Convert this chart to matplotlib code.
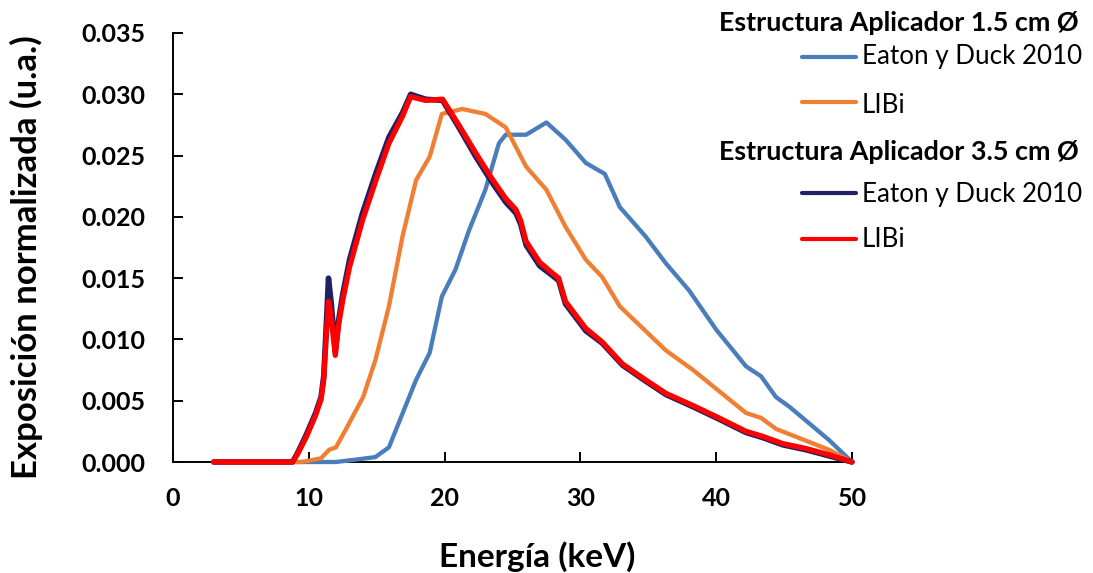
import matplotlib
matplotlib.use('Agg')
import matplotlib.pyplot as plt
from matplotlib.lines import Line2D

plt.rcParams['font.family'] = ['Lato', 'DejaVu Sans']

# Espectros de exposicion normalizada (keV, u.a.)
# Aplicador 1.5 cm - Eaton y Duck 2010
e_eaton_15 = [3, 9, 12, 13.5, 14.9, 15.9, 17.1, 17.9, 18.9, 19.8, 20.8, 21.8, 23.0, 24.0, 24.5,
              26.0, 27.5, 28.9, 30.4, 31.8, 32.9, 34.8, 36.3, 38.0, 40.0, 42.2, 43.3, 44.4,
              45.4, 48.3, 50]
v_eaton_15 = [0, 0, 0, 0.0002, 0.0004, 0.0012, 0.0045, 0.0067, 0.0089, 0.0135, 0.0157, 0.0189,
              0.0222, 0.0260, 0.0267, 0.0267, 0.0277, 0.0263, 0.0244, 0.0235, 0.0208, 0.0184,
              0.0162, 0.0140, 0.0108, 0.0078, 0.0070, 0.0053, 0.0045, 0.0018, 0.0]

# Aplicador 1.5 cm - LIBi
e_libi_15 = [3, 9.5, 10.9, 11.5, 12.0, 12.7, 14.0, 14.9, 15.9, 16.9, 17.9, 18.9, 19.8, 21.3,
             23.0, 24.5, 26.0, 27.5, 28.9, 30.4, 31.6, 32.9, 36.3, 38.3, 42.2, 43.3, 44.4,
             48.3, 50]
v_libi_15 = [0, 0, 0.0003, 0.0010, 0.0012, 0.0026, 0.0053, 0.0083, 0.0127, 0.0184, 0.0230,
             0.0249, 0.0284, 0.0288, 0.0284, 0.0273, 0.0241, 0.0222, 0.0192, 0.0165, 0.0151,
             0.0127, 0.0091, 0.0075, 0.0040, 0.0036, 0.0027, 0.0010, 0.0]

# Aplicador 3.5 cm (mismas energias para ambas series)
e_35 = [3, 8.8, 9.2, 9.8, 10.5, 10.9, 11.1, 11.3, 11.45, 11.65, 11.95, 12.2, 12.5, 13.0, 13.95,
        14.95, 15.9, 16.9, 17.5, 18.6, 19.85, 21.1, 22.3, 23.5, 24.5, 25.25, 25.6, 26.0, 27.0,
        27.95, 28.4, 28.9, 30.4, 31.6, 33.1, 34.8, 36.3, 38.3, 40.2, 42.2, 43.4, 44.9, 46.6,
        48.3, 50]
v_eaton_35 = [0, 0, 0.0008, 0.0022, 0.0040, 0.0053, 0.0070, 0.0115, 0.0150, 0.0130, 0.0090,
              0.0116, 0.0137, 0.0165, 0.0203, 0.0236, 0.0265, 0.0285, 0.0300, 0.0296, 0.0295,
              0.0272, 0.0249, 0.0228, 0.0212, 0.0203, 0.0194, 0.0177, 0.0160, 0.0152, 0.0148,
              0.0129, 0.0107, 0.0097, 0.0079, 0.0066, 0.0055, 0.0045, 0.0035, 0.0024, 0.0020,
              0.0014, 0.0010, 0.0005, 0.0]
v_libi_35 = [0, 0, 0.0007, 0.0020, 0.0038, 0.0051, 0.0067, 0.0105, 0.0131, 0.0118, 0.0087,
             0.0112, 0.0132, 0.0159, 0.0197, 0.0230, 0.0260, 0.0282, 0.0298, 0.0295, 0.0296,
             0.0274, 0.0252, 0.0231, 0.0215, 0.0206, 0.0197, 0.0180, 0.0163, 0.0154, 0.0150,
             0.0131, 0.0109, 0.0098, 0.0080, 0.0067, 0.0056, 0.0046, 0.0036, 0.0025, 0.0021,
             0.0015, 0.0011, 0.0006, 0.0]

x_ticks = [0, 10, 20, 30, 40, 50]
y_ticks = [0.000, 0.005, 0.010, 0.015, 0.020, 0.025, 0.030, 0.035]

c_blue = '#4A7EBB'
c_orange = '#EF7F33'
c_navy = '#202064'
c_red = '#FF0000'

W, H = 1093, 573
fig = plt.figure(figsize=(W / 100, H / 100), dpi=100)
ax = fig.add_axes([173 / W, 1 - 462 / H, (852 - 173) / W, (462 - 33) / H])

kw = dict(solid_capstyle='round', solid_joinstyle='round', clip_on=False)
ax.plot(e_eaton_15, v_eaton_15, color=c_blue, lw=3.1, zorder=3, **kw)
ax.plot(e_libi_15, v_libi_15, color=c_orange, lw=3.1, zorder=4, **kw)
ax.plot(e_35, v_eaton_35, color=c_navy, lw=4.0, zorder=5, **kw)
ax.plot(e_35, v_libi_35, color=c_red, lw=3.8, zorder=6, **kw)

ax.set_xlim(0, 50)
ax.set_ylim(0, 0.035)
ax.set_xticks(x_ticks)
ax.set_yticks(y_ticks)
ax.set_yticklabels([f'{v:.3f}' for v in y_ticks])
for s in ('top', 'right'):
    ax.spines[s].set_visible(False)
for s in ('left', 'bottom'):
    ax.spines[s].set_linewidth(1.4)
    ax.spines[s].set_color('black')
ax.tick_params(direction='in', length=7, width=1.4, labelsize=18)
ax.tick_params(axis='y', pad=20)
ax.tick_params(axis='x', pad=18)
for lab in ax.get_xticklabels() + ax.get_yticklabels():
    lab.set_fontweight('bold')

ax.set_xlabel('Energía (keV)', fontsize=24, fontweight='bold', va='baseline')
ax.xaxis.set_label_coords((537.5 - 173) / 679, (462 - 566.7) / 429)
ax.set_ylabel('Exposición normalizada (u.a.)', fontsize=25, fontweight='bold')
ax.yaxis.label.set_rotation_mode('anchor')
ax.yaxis.label.set_va('baseline')
ax.yaxis.set_label_coords((37 - 173) / 679, (462 - 257.5) / 429)

# leyenda agrupada por aplicador
def fy(py):
    return 1 - py / H

groups = [
    ('Estructura Aplicador 1.5 cm Ø', 31,
     [(c_blue, 3.0, 'Eaton y Duck 2010', 57, 64), (c_orange, 3.0, 'LIBi', 102, 113)]),
    ('Estructura Aplicador 3.5 cm Ø', 160,
     [(c_navy, 3.0, 'Eaton y Duck 2010', 193, 202), (c_red, 3.0, 'LIBi', 239, 247)]),
]
for title, ty, entries in groups:
    fig.text(1079 / W, fy(ty), title, ha='right', va='baseline', fontsize=19.4, fontweight='bold')
    for col, lw, label, ly, tb in entries:
        fig.add_artist(Line2D([802 / W, 856 / W], [fy(ly), fy(ly)], color=col, lw=lw,
                              solid_capstyle='round', transform=fig.transFigure))
        fig.text(862 / W, fy(tb), label, ha='left', va='baseline', fontsize=18.7)

fig.savefig('out.png', dpi=100)
